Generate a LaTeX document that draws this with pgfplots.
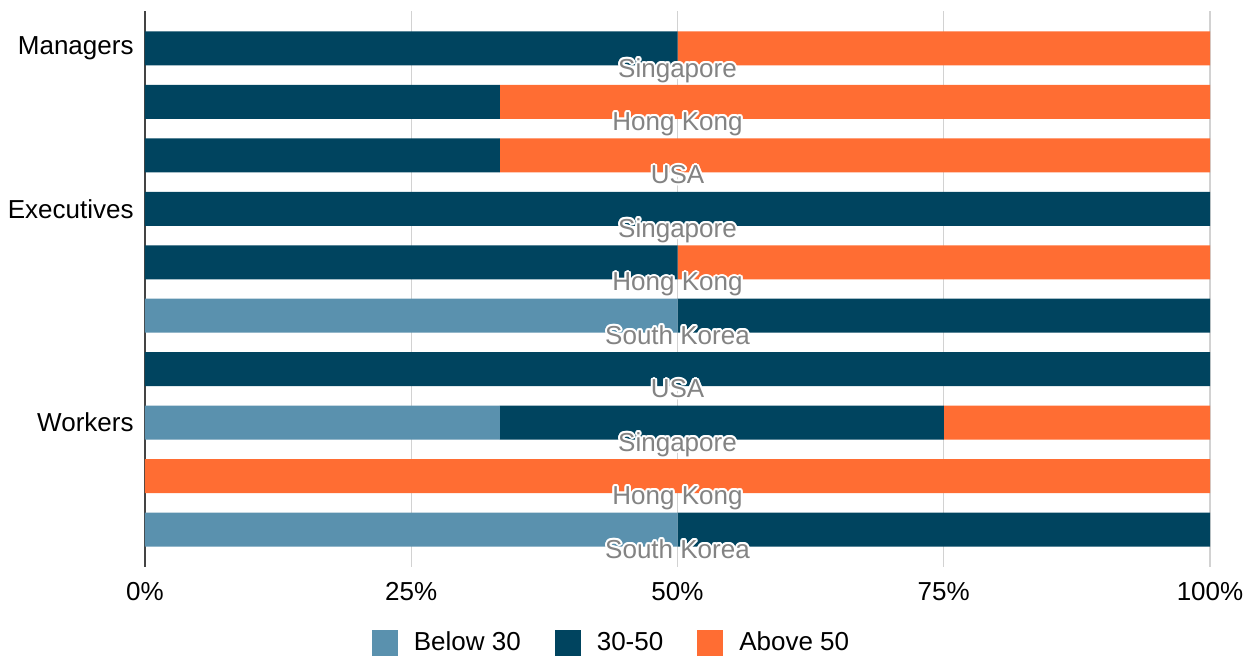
\documentclass[border=0pt]{standalone}
\usepackage{fontspec}
\setmainfont{Liberation Sans}
\usepackage{pgfplots}
\pgfplotsset{compat=1.18}
\usepackage{pgfplotstable}

\definecolor{young}{HTML}{5A91AE}
\definecolor{mid}{HTML}{00445F}
\definecolor{senior}{HTML}{FF6D33}
\definecolor{labgray}{HTML}{838383}
\definecolor{gridgray}{HTML}{D2D2D2}
\definecolor{axisgray}{HTML}{444444}

\newcommand\fs{\fontsize{13pt}{15pt}\selectfont}

% Share of staff per age band, one row per bar (top to bottom)
\pgfplotstableread{
row below mid   above
0   0     50    50
1   0     33.33 66.67
2   0     33.33 66.67
3   0     100   0
4   0     50    50
5   50    50    0
6   0     100   0
7   33.33 41.67 25
8   0     0     100
9   50    50    0
}\agedata

% Country name under a bar: grey text over a white halo
\newcommand\countrylabel[2]{%
  \foreach \a in {0,30,...,330}
    \node[text=white, font=\fs, inner sep=0pt, anchor=base] at ([shift={(\a:1pt)}]#1) {#2};
  \node[text=labgray, font=\fs, inner sep=0pt, anchor=base] at (#1) {#2};}

\begin{document}
\begin{tikzpicture}
\useasboundingbox (-72.5pt,-44.5pt) rectangle (555.5pt,283.5pt);
\begin{axis}[
  at={(0,0)}, anchor=south west,
  scale only axis, width=532.5pt, height=278pt,
  xbar stacked, bar width=17pt,
  xmin=0, xmax=100, ymin=-0.7, ymax=9.7, y dir=reverse,
  xtick={0,25,50,75,100},
  xticklabel={\pgfmathprintnumber[assume math mode=true]{\tick}\%},
  ytick={0,3,7}, yticklabels={Managers,Executives,Workers},
  xmajorgrids, grid style={gridgray, line width=0.6pt},
  axis y line*=left, axis x line*=bottom,
  x axis line style={draw=none},
  y axis line style={axisgray, line width=0.8pt},
  major tick length=0pt,
  tick label style={font=\fs},
  xticklabel style={yshift=-4pt},
  yticklabel style={xshift=-2.2pt},
  legend columns=3,
  legend cell align=left,
  legend style={draw=none, fill=none, font=\fs,
    at={(0.439,-0.1366)}, anchor=center,
    /tikz/every even column/.append style={column sep=15pt}},
  legend image code/.code={\fill[#1] (0pt,-6.5pt) rectangle (13pt,6.5pt);
    \path (19pt,0pt);},
]
\addplot[fill=young, draw=none] table[x=below, y=row] {\agedata};
\addlegendentry{Below 30}
\addplot[fill=mid, draw=none] table[x=mid, y=row] {\agedata};
\addlegendentry{30-50}
\addplot[fill=senior, draw=none] table[x=above, y=row] {\agedata};
\addlegendentry{Above 50}

% baseline points for the country names, just under each bar
\coordinate (l0) at (axis cs:50,0.535);
\coordinate (l1) at (axis cs:50,1.535);
\coordinate (l2) at (axis cs:50,2.535);
\coordinate (l3) at (axis cs:50,3.535);
\coordinate (l4) at (axis cs:50,4.535);
\coordinate (l5) at (axis cs:50,5.535);
\coordinate (l6) at (axis cs:50,6.535);
\coordinate (l7) at (axis cs:50,7.535);
\coordinate (l8) at (axis cs:50,8.535);
\coordinate (l9) at (axis cs:50,9.535);
\end{axis}
\countrylabel{l0}{Singapore}
\countrylabel{l1}{Hong Kong}
\countrylabel{l2}{USA}
\countrylabel{l3}{Singapore}
\countrylabel{l4}{Hong Kong}
\countrylabel{l5}{South Korea}
\countrylabel{l6}{USA}
\countrylabel{l7}{Singapore}
\countrylabel{l8}{Hong Kong}
\countrylabel{l9}{South Korea}
\end{tikzpicture}
\end{document}
